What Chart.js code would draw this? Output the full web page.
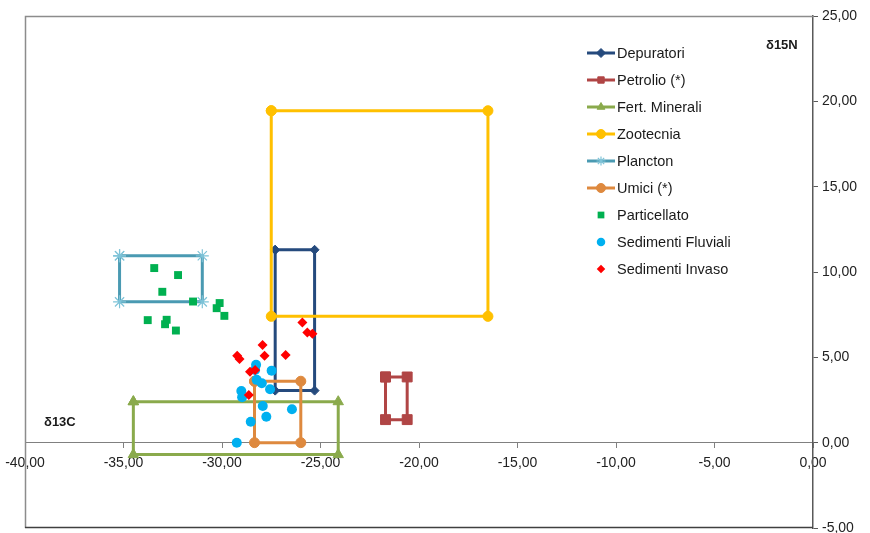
<!DOCTYPE html>
<html>
<head>
<meta charset="utf-8">
<script src="https://cdn.jsdelivr.net/npm/chart.js@4.4.0/dist/chart.umd.min.js"></script>
<style>
html,body{margin:0;padding:0;background:#fff;}
#wrap{width:870px;height:533px;}
</style>
</head>
<body>
<div id="wrap"><canvas id="c" width="870" height="533"></canvas></div>
<script>
// ---- data (δ13C, δ15N) ----
const xTicks = [-40, -35, -30, -25, -20, -15, -10, -5, 0];
const yTicks = [-5, 0, 5, 10, 15, 20, 25];

const depuratori = [[-27.3, 11.3], [-25.3, 11.3], [-25.3, 3.05], [-27.3, 3.05], [-27.3, 11.3]];
const petrolio   = [[-21.7, 3.85], [-20.6, 3.85], [-20.6, 1.35], [-21.7, 1.35], [-21.7, 3.85]];
const fertMinerali = [[-34.5, 2.4], [-24.1, 2.4], [-24.1, -0.7], [-34.5, -0.7], [-34.5, 2.4]];
const zootecnia  = [[-27.5, 19.45], [-16.5, 19.45], [-16.5, 7.4], [-27.5, 7.4], [-27.5, 19.45]];
const plancton   = [[-35.2, 10.95], [-31.0, 10.95], [-31.0, 8.25], [-35.2, 8.25], [-35.2, 10.95]];
const umici      = [[-28.35, 3.6], [-26.0, 3.6], [-26.0, 0], [-28.35, 0], [-28.35, 3.6]];

const particellato = [[-33.44, 10.23], [-32.23, 9.82], [-33.03, 8.84], [-31.47, 8.27], [-30.12, 8.18],
  [-30.27, 7.88], [-29.88, 7.43], [-33.77, 7.18], [-32.81, 7.2], [-32.89, 6.94], [-32.34, 6.57]];
const sedimentiFluviali = [[-28.27, 4.56], [-28.32, 4.26], [-27.48, 4.22], [-28.24, 3.68], [-27.98, 3.48],
  [-27.56, 3.13], [-29.02, 3.03], [-28.98, 2.66], [-27.93, 2.15], [-26.45, 1.96], [-27.75, 1.52],
  [-28.54, 1.23], [-29.25, 0.0]];
const sedimentiInvaso = [[-25.92, 7.04], [-25.67, 6.46], [-25.41, 6.38], [-27.94, 5.72], [-29.23, 5.10],
  [-29.11, 4.90], [-27.84, 5.09], [-26.77, 5.14], [-28.58, 4.15], [-28.32, 4.26], [-28.64, 2.80]];

const toPts = a => a.map(p => ({x: p[0], y: p[1]}));
const fmt = v => Number(v).toFixed(2).replace('.', ',');

function lineDs(label, data, color, style, radius, order, extra) {
  return Object.assign({
    label, data: toPts(data), showLine: true, borderColor: color, backgroundColor: color,
    borderWidth: 3, pointStyle: style, pointRadius: radius, pointBackgroundColor: color,
    pointBorderColor: color, pointBorderWidth: 1, order, tension: 0
  }, extra || {});
}
function ptDs(label, data, color, style, radius, order) {
  return {
    label, data: toPts(data), showLine: false, backgroundColor: color, borderColor: color,
    pointStyle: style, pointRadius: radius, pointBorderWidth: 0, order
  };
}

const datasets = [
  lineDs('Depuratori', depuratori, '#254a7d', 'rectRot', 4.5, 8),
  lineDs('Petrolio (*)', petrolio, '#b04545', 'rect', 7, 7),
  lineDs('Fert. Minerali', fertMinerali, '#8aaa4c', 'triangle', 6, 6),
  lineDs('Zootecnia', zootecnia, '#ffc000', 'circle', 5, 5),
  lineDs('Plancton', plancton, '#4a9ab2', 'star', 6.5, 4, {pointBorderColor: '#7ec3d8', pointBorderWidth: 1.2}),
  lineDs('Umici (*)', umici, '#de893e', 'circle', 5, 3),
  ptDs('Particellato', particellato, '#00b050', 'rect', 5.6, 2),
  ptDs('Sedimenti Fluviali', sedimentiFluviali, '#00b0f0', 'circle', 5, 1),
  ptDs('Sedimenti Invaso', sedimentiInvaso, '#ff0000', 'rectRot', 5, 0)
];

const FONT = '"Liberation Sans", Arial, sans-serif';
const PLOT_BOTTOM = 528;

const framePlugin = {
  id: 'frame',
  afterLayout(chart) {
    // pin the plot-area bottom edge to match the reference frame
    const a = chart.chartArea;
    a.bottom = PLOT_BOTTOM;
    a.height = PLOT_BOTTOM - a.top;
    const y = chart.scales.y;
    y.bottom = PLOT_BOTTOM;
    y.height = PLOT_BOTTOM - y.top;
    y.configure();
  },
  beforeDatasetsDraw(chart) {
    const {ctx, chartArea: a} = chart;
    ctx.save();
    ctx.strokeStyle = '#8c8c8c';
    ctx.lineWidth = 1.5;
    ctx.beginPath();
    ctx.moveTo(a.right, a.top + 0.5);
    ctx.lineTo(a.left + 0.5, a.top + 0.5);
    ctx.lineTo(a.left + 0.5, a.bottom);
    ctx.stroke();
    ctx.strokeStyle = '#404040';
    ctx.beginPath();
    ctx.moveTo(a.left, a.bottom - 0.5);
    ctx.lineTo(a.right, a.bottom - 0.5);
    ctx.stroke();
    ctx.restore();
  },
  afterDraw(chart) {
    const {ctx} = chart;
    ctx.save();
    // axis titles
    ctx.fillStyle = '#1a1a1a';
    ctx.font = 'bold 13px ' + FONT;
    ctx.textBaseline = 'middle';
    ctx.textAlign = 'left';
    ctx.fillText('δ15N', 766, 45);
    ctx.fillText('δ13C', 44, 422);
    // legend
    const x0 = 587, x1 = 615, mx = 601, tx = 617;
    const rowY0 = 53, rowH = 27;
    ctx.font = '14.5px ' + FONT;
    chart.data.datasets.forEach((ds, i) => {
      const y = rowY0 + i * rowH;
      if (ds.showLine) {
        ctx.strokeStyle = ds.borderColor;
        ctx.lineWidth = 3;
        ctx.beginPath();
        ctx.moveTo(x0, y); ctx.lineTo(x1, y);
        ctx.stroke();
      }
      ctx.fillStyle = ds.pointBackgroundColor || ds.backgroundColor;
      ctx.strokeStyle = ds.pointBorderColor || ds.borderColor;
      ctx.lineWidth = ds.pointBorderWidth || 0;
      let r = ds.pointRadius;
      if (ds.showLine) r = Math.min(r, 4.5);
      else r = r * 0.85;
      Chart.helpers.drawPoint(ctx, {pointStyle: ds.pointStyle, rotation: 0, radius: r, borderWidth: ds.pointBorderWidth || 0}, mx, y);
      ctx.fillStyle = '#1a1a1a';
      ctx.fillText(ds.label, tx, y + 1);
    });
    ctx.restore();
  }
};

new Chart(document.getElementById('c'), {
  type: 'scatter',
  data: {datasets},
  plugins: [framePlugin],
  options: {
    responsive: false,
    animation: false,
    events: [],
    layout: {padding: {left: 25, top: 16, right: 0, bottom: 5}},
    plugins: {legend: {display: false}, tooltip: {enabled: false}, title: {display: false}},
    elements: {line: {tension: 0}},
    scales: {
      x: {
        type: 'linear', min: -40, max: 0,
        position: {y: 0},
        afterBuildTicks: s => { s.ticks = xTicks.map(v => ({value: v})); },
        afterFit: s => { s.paddingLeft = 0; s.paddingRight = 0; s.paddingTop = 0; s.paddingBottom = 0; },
        grid: {drawOnChartArea: false, drawTicks: true, tickLength: 5, tickColor: '#808080', tickWidth: 1},
        border: {display: true, color: '#808080', width: 1},
        ticks: {callback: v => fmt(v), color: '#222', font: {family: FONT, size: 14}, padding: 7, maxRotation: 0, autoSkip: false}
      },
      y: {
        type: 'linear', min: -5, max: 25,
        position: 'right',
        afterBuildTicks: s => { s.ticks = yTicks.map(v => ({value: v})); },
        afterFit: s => { s.width = 57; s.paddingTop = 0; s.paddingBottom = 0; },
        grid: {drawOnChartArea: false, drawTicks: true, tickLength: 5, tickColor: '#595959', tickWidth: 1},
        border: {display: true, color: '#595959', width: 1.5},
        ticks: {callback: v => fmt(v), color: '#222', font: {family: FONT, size: 14}, padding: 4, autoSkip: false}
      }
    }
  }
});
</script>
</body>
</html>
